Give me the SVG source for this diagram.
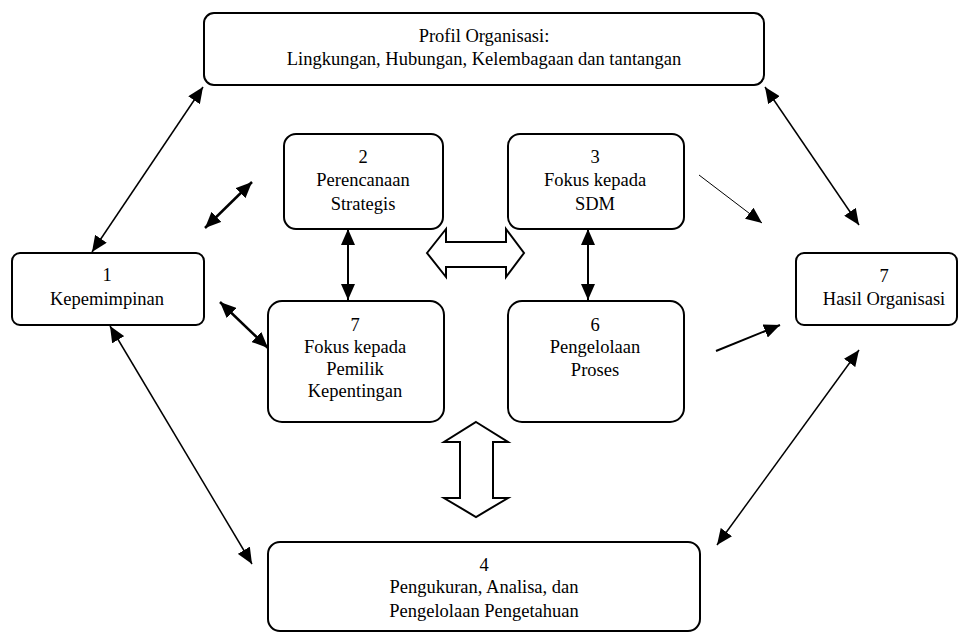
<svg xmlns="http://www.w3.org/2000/svg" width="961" height="633" viewBox="0 0 961 633">
<style>
.box{fill:#fff;stroke:#000;stroke-width:2}
.t{font-family:"Liberation Serif","Times New Roman",serif;font-size:18.5px;fill:#000;text-anchor:middle}
.ln{stroke:#000;fill:none}
.blk{fill:#fff;stroke:#000;stroke-width:2;stroke-linejoin:miter}
</style>
<defs>
<marker id="ah" markerUnits="userSpaceOnUse" markerWidth="17" markerHeight="14" refX="16" refY="7" orient="auto-start-reverse" viewBox="0 0 17 14">
<path d="M0,0 L16,7 L0,14 z" fill="#000"/>
</marker>
</defs>
<rect width="961" height="633" fill="#fff"/>
<g id="profil">
<rect class="box" x="204" y="13" width="560" height="72" rx="10"/>
<text class="t" x="484" y="42">Profil Organisasi:</text>
<text class="t" x="484" y="65">Lingkungan, Hubungan, Kelembagaan dan tantangan</text>
</g>
<g id="kepemimpinan">
<rect class="box" x="12" y="253" width="192" height="72" rx="8"/>
<text class="t" x="107" y="281">1</text>
<text class="t" x="107" y="305">Kepemimpinan</text>
</g>
<g id="hasil">
<rect class="box" x="796" y="253" width="161" height="72" rx="8"/>
<text class="t" x="884" y="282">7</text>
<text class="t" x="884" y="305">Hasil Organisasi</text>
</g>
<g id="perencanaan">
<rect class="box" x="284" y="134" width="159" height="95" rx="12"/>
<text class="t" x="363" y="163">2</text>
<text class="t" x="363" y="186">Perencanaan</text>
<text class="t" x="363" y="210">Strategis</text>
</g>
<g id="sdm">
<rect class="box" x="508" y="134" width="176" height="95" rx="12"/>
<text class="t" x="595" y="163">3</text>
<text class="t" x="595" y="186">Fokus kepada</text>
<text class="t" x="595" y="210">SDM</text>
</g>
<g id="pemilik">
<rect class="box" x="268" y="301" width="176" height="121" rx="14"/>
<text class="t" x="355" y="331">7</text>
<text class="t" x="355" y="353">Fokus kepada</text>
<text class="t" x="355" y="375">Pemilik</text>
<text class="t" x="355" y="397">Kepentingan</text>
</g>
<g id="proses">
<rect class="box" x="508" y="301" width="176" height="121" rx="14"/>
<text class="t" x="595" y="331">6</text>
<text class="t" x="595" y="353">Pengelolaan</text>
<text class="t" x="595" y="376">Proses</text>
</g>
<g id="pengukuran">
<rect class="box" x="268" y="542" width="432" height="89" rx="12"/>
<text class="t" x="484" y="571">4</text>
<text class="t" x="484" y="593">Pengukuran, Analisa, dan</text>
<text class="t" x="484" y="617">Pengelolaan Pengetahuan</text>
</g>
<g id="connectors">
<line class="ln" x1="203" y1="87" x2="92" y2="252" stroke-width="1.5" marker-start="url(#ah)" marker-end="url(#ah)"/>
<line class="ln" x1="252" y1="182" x2="205" y2="228" stroke-width="2.5" marker-start="url(#ah)" marker-end="url(#ah)"/>
<line class="ln" x1="220" y1="302" x2="268" y2="348" stroke-width="2.5" marker-start="url(#ah)" marker-end="url(#ah)"/>
<line class="ln" x1="348" y1="229" x2="348" y2="300" stroke-width="2" marker-start="url(#ah)" marker-end="url(#ah)"/>
<line class="ln" x1="588" y1="229" x2="588" y2="300" stroke-width="2" marker-start="url(#ah)" marker-end="url(#ah)"/>
<line class="ln" x1="110" y1="326" x2="252" y2="564" stroke-width="1.5" marker-start="url(#ah)" marker-end="url(#ah)"/>
<line class="ln" x1="699" y1="175" x2="762" y2="223" stroke-width="1" marker-end="url(#ah)"/>
<line class="ln" x1="765" y1="87" x2="859" y2="225" stroke-width="1.5" marker-start="url(#ah)" marker-end="url(#ah)"/>
<line class="ln" x1="716" y1="351" x2="780" y2="325" stroke-width="2" marker-end="url(#ah)"/>
<line class="ln" x1="859" y1="350" x2="717" y2="545" stroke-width="1.5" marker-start="url(#ah)" marker-end="url(#ah)"/>
<polygon class="blk" points="427,253 446,229 446,242 506,242 506,229 524,253 506,277 506,267 446,267 446,277"/>
<polygon class="blk" points="476,422 508,442 493,442 493,498 508,498 476,517 444,498 460,498 460,442 444,442"/>
</g>
</svg>
